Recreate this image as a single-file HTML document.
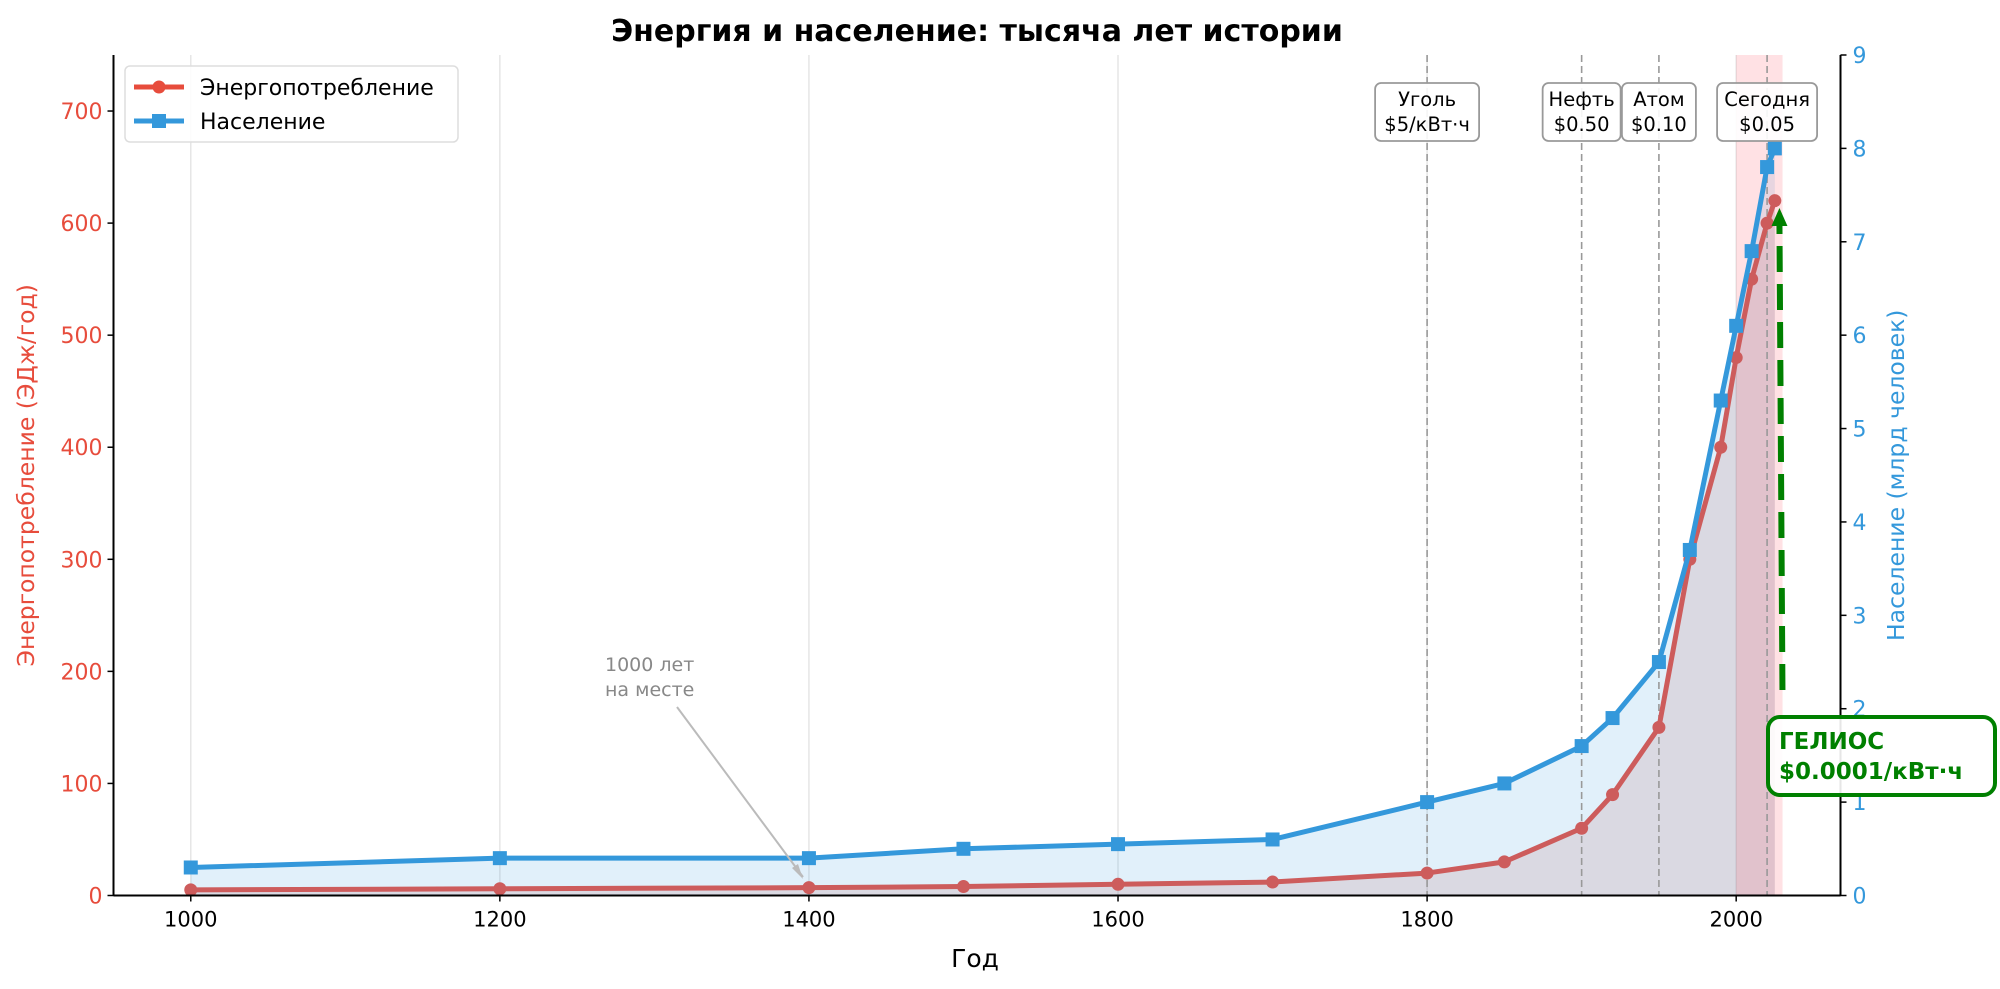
<!DOCTYPE html>
<html><head><meta charset="utf-8">
<style>
html,body{margin:0;padding:0;background:#fff;}
svg{display:block;font-family:"Liberation Sans","DejaVu Sans",sans-serif;}
</style></head>
<body>
<svg id="chart" width="2000" height="989" viewBox="0 0 2000 989" xmlns="http://www.w3.org/2000/svg">
<text x="977" y="41" text-anchor="middle" font-size="30" font-weight="bold" font-family="DejaVu Sans, sans-serif">Энергия и население: тысяча лет истории</text>
<g id="grid"></g>
<g id="fills"></g>
<g id="events"></g>
<g id="series"></g>
<g id="axes"></g>
<g id="annot"></g>
</svg>
<script>
const years = [1000,1200,1400,1500,1600,1700,1800,1850,1900,1920,1950,1970,1990,2000,2010,2020,2025];
const energy = [5,6,7,8,10,12,20,30,60,90,150,300,400,480,550,600,620];
const population = [0.3,0.4,0.4,0.5,0.55,0.6,1.0,1.2,1.6,1.9,2.5,3.7,5.3,6.1,6.9,7.8,8.0];
const xTicks = [1000,1200,1400,1600,1800,2000];
const yLeftTicks = [0,100,200,300,400,500,600,700];
const yRightTicks = [0,1,2,3,4,5,6,7,8,9];
const eventYears = [1800,1900,1950,2020];
const eventLabels = [["Уголь","$5/кВт·ч"],["Нефть","$0.50"],["Атом","$0.10"],["Сегодня","$0.05"]];

const NS="http://www.w3.org/2000/svg";
const L=113.5,R=1840.5,T=55,B=895.5;
const X0=950,X1=2067.5;
const sx=v=>L+(v-X0)/(X1-X0)*(R-L);
const syL=v=>B-v/750*(B-T);
const syR=v=>B-v/9*(B-T);
function mk(p,tag,a,txt){const e=document.createElementNS(NS,tag);for(const k in a)e.setAttribute(k,a[k]);if(txt!==undefined)e.textContent=txt;p.appendChild(e);return e;}
const g=id=>document.getElementById(id);
const FONT="DejaVu Sans, sans-serif";

xTicks.forEach(t=>{const l=mk(g('grid'),'line',{x1:sx(t),x2:sx(t),y1:T,y2:B,stroke:'#e6e6e6','stroke-width':1.5});

});

let pp=`M${sx(years[0])},${B}`;years.forEach((y,i)=>pp+=` L${sx(y)},${syR(population[i])}`);pp+=` L${sx(years[years.length-1])},${B}Z`;
const f1=mk(g('fills'),'path',{d:pp,fill:'#3498db','fill-opacity':0.15});


let ep=`M${sx(years[0])},${B}`;years.forEach((y,i)=>ep+=` L${sx(y)},${syL(energy[i])}`);ep+=` L${sx(years[years.length-1])},${B}Z`;
const f2=mk(g('fills'),'path',{d:ep,fill:'#b5545c','fill-opacity':0.15});


const span=mk(g('fills'),'rect',{x:sx(2000),y:T,width:sx(2030)-sx(2000),height:B-T,fill:'#ff6b7a','fill-opacity':0.2});



eventYears.forEach((y,i)=>{
 const l=mk(g('events'),'line',{x1:sx(y),x2:sx(y),y1:T,y2:B,stroke:'#999','stroke-width':1.6,'stroke-dasharray':'7,4'});
 
 
});
const boxW=[104,78,74,100];
eventYears.forEach((y,i)=>{
 const cx=sx(y)+(i===1?0:0);const w=boxW[i];
 const r=mk(g('annot'),'rect',{x:cx-w/2,y:83,width:w,height:58,rx:6,fill:'#fff','fill-opacity':0.9,stroke:'#999','stroke-width':1.8});
 
 
 const t1=mk(g('annot'),'text',{x:cx,y:106,'text-anchor':'middle','font-size':19.5,'font-family':FONT},eventLabels[i][0]);
 
 
 const t2=mk(g('annot'),'text',{x:cx,y:131,'text-anchor':'middle','font-size':19.5,'font-family':FONT},eventLabels[i][1]);
 
 
});

function line(vals,sy,color,name,marker){
 const pts=years.map((y,i)=>`${sx(y)},${sy(vals[i])}`).join(' ');
 const pl=mk(g('series'),'polyline',{points:pts,fill:'none',stroke:color,'stroke-width':5,'stroke-linejoin':'round'});
 
 
 years.forEach((y,i)=>{let m;
  if(marker==='o'){m=mk(g('series'),'circle',{cx:sx(y),cy:sy(vals[i]),r:6.5,fill:color});}
  else{m=mk(g('series'),'rect',{x:sx(y)-7,y:sy(vals[i])-7,width:14,height:14,fill:color});}
  
  
 });
}
line(energy,syL,'#cd5c5c','energy','o');
line(population,syR,'#3498db','population','s');

const A=g('axes');
[[L,T,L,B],[R,T,R,B],[L,B,R,B]].forEach(c=>{const s=mk(A,'line',{x1:c[0],y1:c[1],x2:c[2],y2:c[3],stroke:'#000','stroke-width':2});

});
xTicks.forEach(t=>{mk(A,'line',{x1:sx(t),x2:sx(t),y1:B,y2:B+6,stroke:'#000','stroke-width':1.5});
const tx=mk(A,'text',{x:sx(t),y:B+31,'text-anchor':'middle','font-size':21,'font-family':FONT},t);

});
yLeftTicks.forEach(t=>{mk(A,'line',{x1:L-6,x2:L,y1:syL(t),y2:syL(t),stroke:'#000','stroke-width':1.5});
const tx=mk(A,'text',{x:L-11,y:syL(t)+8,'text-anchor':'end','font-size':22,fill:'#e74c3c','font-family':FONT},t);

});
yRightTicks.forEach(t=>{mk(A,'line',{x1:R,x2:R+6,y1:syR(t),y2:syR(t),stroke:'#000','stroke-width':1.5});
const tx=mk(A,'text',{x:R+12,y:syR(t)+8,'text-anchor':'start','font-size':22,fill:'#3498db','font-family':FONT},t);

});
const xl=mk(A,'text',{x:(L+R)/2-2,y:967,'text-anchor':'middle','font-size':25,'font-family':FONT},'Год');


const yl=mk(A,'text',{x:0,y:0,transform:`translate(34,${(T+B)/2}) rotate(-90)`,'text-anchor':'middle','font-size':23.5,fill:'#e74c3c','font-family':FONT},'Энергопотребление (ЭДж/год)');


const yr=mk(A,'text',{x:0,y:0,transform:`translate(1904,${(T+B)/2}) rotate(-90)`,'text-anchor':'middle','font-size':23.5,fill:'#3498db','font-family':FONT},'Население (млрд человек)');



const N=g('annot');
const a1=mk(N,'text',{x:605,y:671,'font-size':19,fill:'#888','font-family':FONT},'1000 лет');


mk(N,'text',{x:605,y:696,'font-size':19,fill:'#888','font-family':FONT},'на месте');
const ar=mk(N,'line',{x1:677,y1:707,x2:803,y2:877,stroke:'#bbb','stroke-width':2});


mk(N,'path',{d:'M803,879 L792,868 L798,864Z',fill:'#bbb'});
const gx=sx(2028);
const ga=mk(N,'line',{x1:gx+3,y1:690,x2:gx,y2:225,stroke:'#008000','stroke-width':6,'stroke-dasharray':'26,12'});


mk(N,'path',{d:`M${gx},208 L${gx-8},226 L${gx+8},226Z`,fill:'#008000'});
const hb=mk(N,'rect',{x:1768,y:717,width:227,height:78,rx:12,fill:'#fff','fill-opacity':0.9,stroke:'#008000','stroke-width':4});


const h1=mk(N,'text',{x:1779,y:749,'font-size':23,'font-weight':'bold',fill:'#008000','font-family':FONT},'ГЕЛИОС');


const h2=mk(N,'text',{x:1779,y:779,'font-size':23,'font-weight':'bold',fill:'#008000','font-family':FONT},'$0.0001/кВт·ч');



const lg=mk(N,'g',{});


mk(lg,'rect',{x:125,y:66,width:333,height:76,rx:5,fill:'#fff','fill-opacity':0.85,stroke:'#ddd','stroke-width':1.5});
mk(lg,'line',{x1:134,x2:184,y1:87,y2:87,stroke:'#e74c3c','stroke-width':5});
mk(lg,'circle',{cx:159,cy:87,r:6.5,fill:'#e74c3c'});
const le1=mk(lg,'text',{x:200,y:95,'font-size':22,'font-family':FONT},'Энергопотребление');


mk(lg,'line',{x1:134,x2:184,y1:121,y2:121,stroke:'#3498db','stroke-width':5});
mk(lg,'rect',{x:152,y:114,width:14,height:14,fill:'#3498db'});
const le2=mk(lg,'text',{x:200,y:129,'font-size':22,'font-family':FONT},'Население');


</script>
</body></html>
